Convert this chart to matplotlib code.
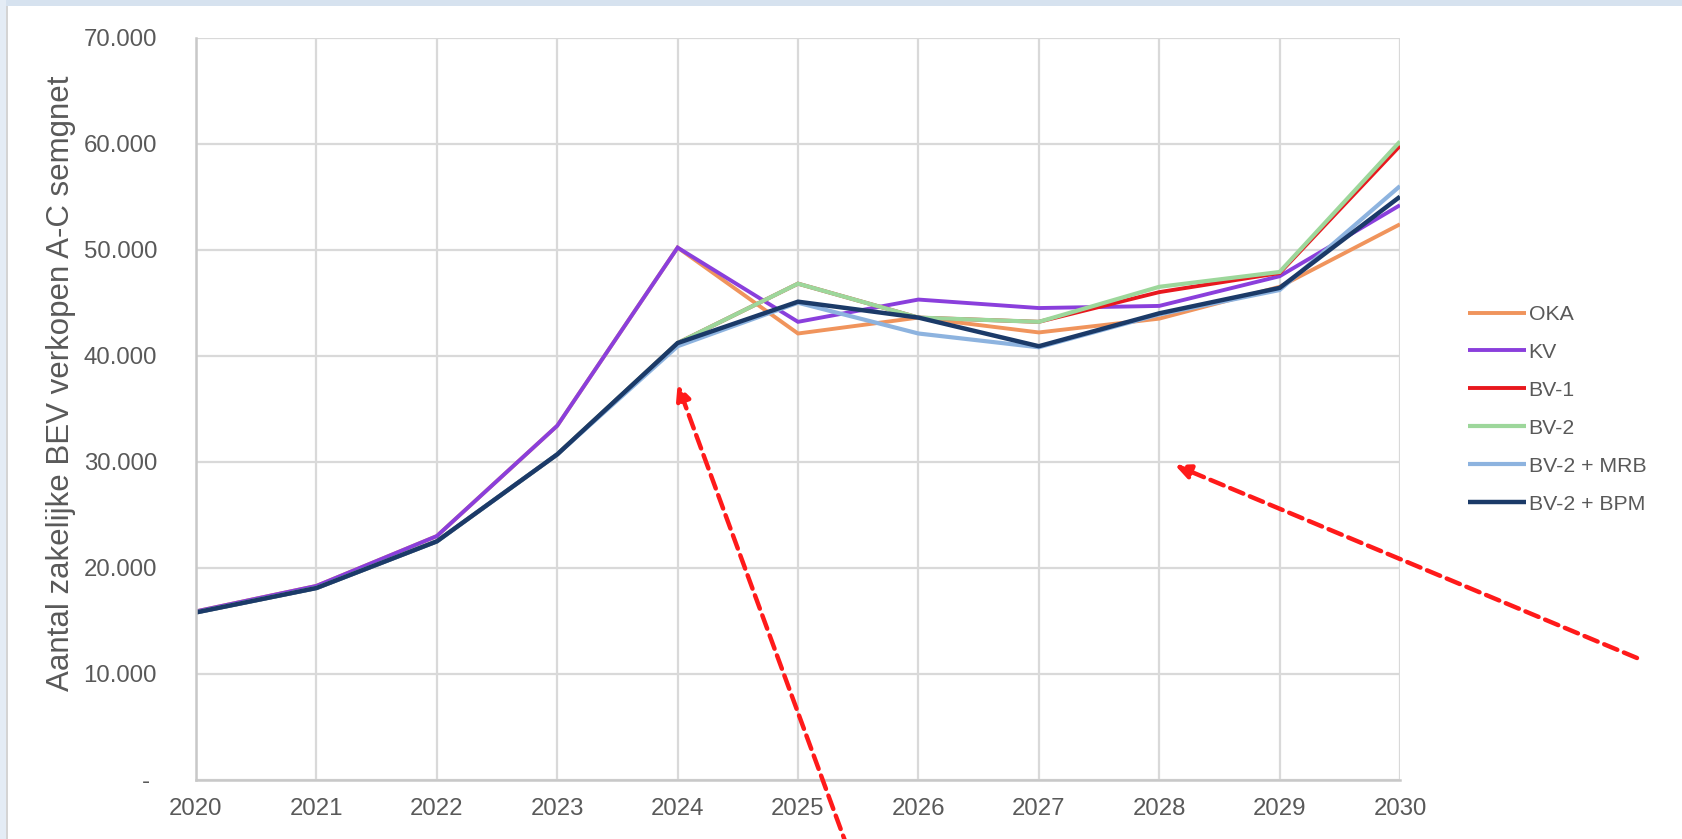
import matplotlib
matplotlib.use("Agg")
import matplotlib.pyplot as plt
from matplotlib.patches import Rectangle
from matplotlib.ticker import FuncFormatter

plt.rcParams['font.family'] = ['Liberation Sans', 'DejaVu Sans']

years = [2020, 2021, 2022, 2023, 2024, 2025, 2026, 2027, 2028, 2029, 2030]

oka     = [15900, 18300, 23000, 33400, 50200, 42100, 43600, 42200, 43500, 46500, 52400]
kv      = [15900, 18300, 23000, 33400, 50200, 43200, 45300, 44500, 44700, 47500, 54200]
bv1     = [15800, 18100, 22500, 30700, 41200, 46800, 43600, 43200, 46000, 47800, 59800]
bv2     = [15800, 18100, 22500, 30700, 41200, 46800, 43600, 43200, 46500, 47900, 60200]
bv2_mrb = [15800, 18100, 22500, 30700, 40900, 45000, 42100, 40800, 43900, 46200, 56000]
bv2_bpm = [15800, 18100, 22500, 30700, 41200, 45100, 43600, 40900, 44000, 46400, 55000]

series_names = ['OKA', 'KV', 'BV-1', 'BV-2', 'BV-2 + MRB', 'BV-2 + BPM']
series_values = [oka, kv, bv1, bv2, bv2_mrb, bv2_bpm]
series_colors = ['#f0945c', '#8a3fdc', '#e8181e', '#9dd79b', '#8db3df', '#1b3a68']
series_widths = [2.8, 2.8, 2.8, 3.0, 3.0, 3.2]

y_ticks = [0, 10000, 20000, 30000, 40000, 50000, 60000, 70000]
y_label = 'Aantal zakelijke BEV verkopen A-C semgnet'

W, H = 1683, 839
fig = plt.figure(figsize=(W / 100, H / 100), dpi=100, facecolor='white')

# window frame strips along the top and left edge
fig.patches.append(Rectangle((0, 1 - 6 / H), 1, 6 / H, transform=fig.transFigure,
                             facecolor='#d6e2ef', edgecolor='none', zorder=0))
fig.patches.append(Rectangle((0, 0), 6 / W, 1, transform=fig.transFigure,
                             facecolor='#e4ecf5', edgecolor='none', zorder=0))
fig.patches.append(Rectangle((6 / W, 0), 2 / W, 1 - 6 / H, transform=fig.transFigure,
                             facecolor='#d4d4d4', edgecolor='none', zorder=0))

ax = fig.add_axes([196 / W, 59 / H, 1204 / W, 742.4 / H])
ax.set_facecolor('white')

for name, vals, col, lw in zip(series_names, series_values, series_colors, series_widths):
    ax.plot(years, vals, color=col, linewidth=lw, label=name, solid_joinstyle='miter',
            solid_capstyle='butt')

ax.set_xlim(years[0], years[-1])
ax.set_ylim(y_ticks[0], y_ticks[-1])
ax.set_xticks(years)
ax.set_yticks(y_ticks)


def fmt(v, _pos):
    if v == 0:
        return '- '
    return f'{int(v):,}'.replace(',', '.')


ax.yaxis.set_major_formatter(FuncFormatter(fmt))
ax.grid(True, color='#d9d9d9', linewidth=1.6)
ax.set_axisbelow(True)
for side in ['top', 'right']:
    ax.spines[side].set_visible(False)
for side in ['left', 'bottom']:
    ax.spines[side].set_color('#c8c8c8')
    ax.spines[side].set_linewidth(1.8)
ax.tick_params(length=0, labelsize=17.3, colors='#595959')
ax.tick_params(axis='y', pad=28)
ax.tick_params(axis='x', pad=13)

fig.text(61 / W, 1 - 383 / H, y_label, rotation=90, ha='center', va='center',
         fontsize=22.5, color='#595959')

leg = fig.legend(loc='upper left', bbox_to_anchor=(1468 / W, 1 - 305 / H),
                 frameon=False, fontsize=15.3,
                 handlelength=2.75, handletextpad=0.1,
                 labelspacing=0.89, borderaxespad=0, borderpad=0)
for t in leg.get_texts():
    t.set_color('#595959')

# red dashed pointers
ax.annotate('', xy=(2024.0, 37300), xytext=(848 / W, -10 / H),
            textcoords='figure fraction',
            arrowprops=dict(arrowstyle='-|>,head_length=0.9,head_width=0.42',
                            color='#ff1a1a', lw=3.2, linestyle=(0, (3.2, 1.6)),
                            shrinkA=0, shrinkB=0),
            annotation_clip=False)
ax.annotate('', xy=(2028.13, 29700), xytext=(1637 / W, 1 - 658 / H),
            textcoords='figure fraction',
            arrowprops=dict(arrowstyle='-|>,head_length=0.9,head_width=0.42',
                            color='#ff1a1a', lw=3.2, linestyle=(0, (3.2, 1.6)),
                            shrinkA=0, shrinkB=0),
            annotation_clip=False)

fig.savefig('out.png', dpi=100, facecolor='white')
